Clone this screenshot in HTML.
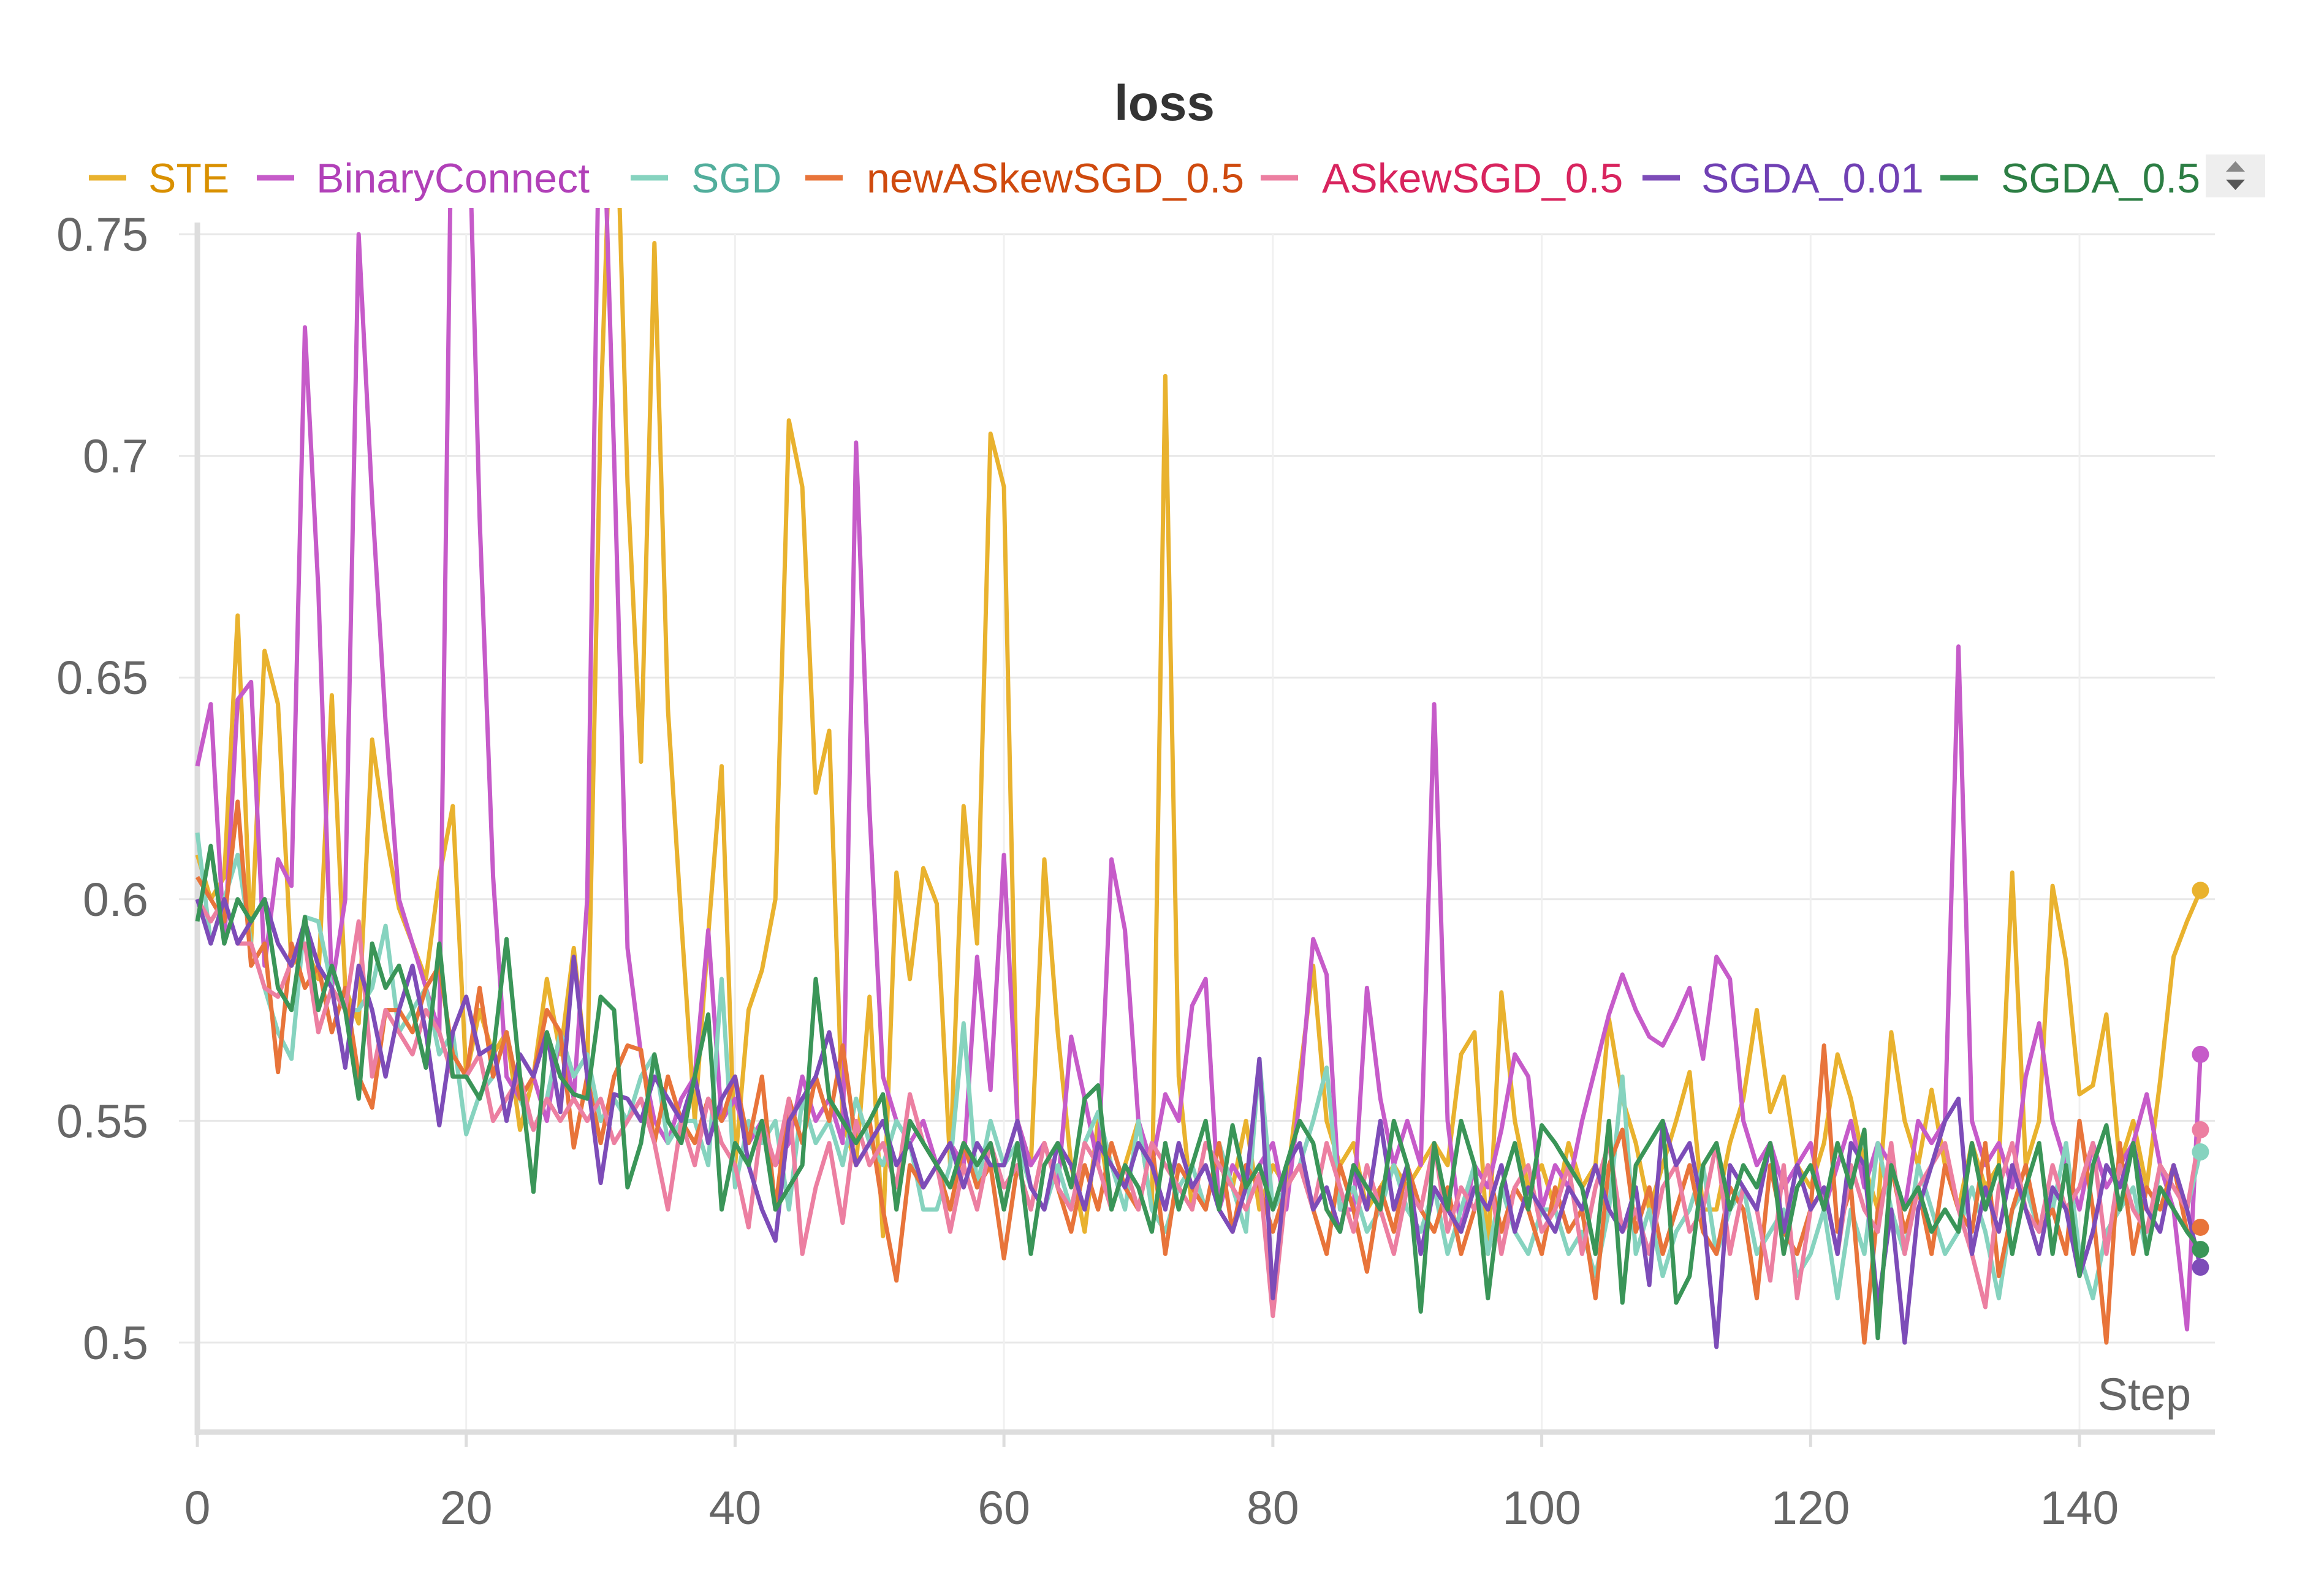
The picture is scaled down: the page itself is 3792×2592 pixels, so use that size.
<!DOCTYPE html>
<html><head><meta charset="utf-8"><style>
html,body{margin:0;padding:0;background:#fff;}
svg{display:block;font-family:"Liberation Sans",sans-serif;}
</style></head><body>
<svg id="chart" width="3792" height="2592" viewBox="0 0 3792 2592" xmlns="http://www.w3.org/2000/svg">
<rect x="0" y="0" width="3792" height="2592" fill="#fff"/>
<text x="1900" y="196" text-anchor="middle" font-size="82" font-weight="bold" fill="#333">loss</text>
<g id="legend"></g>
<g>
<rect x="3599" y="252" width="97" height="70" fill="#eeeeee"/>
<polygon points="3632,280 3663,280 3647.5,263" fill="#888"/>
<polygon points="3632,293 3663,293 3647.5,310" fill="#555"/>
</g>
<g id="grid"></g>
<g id="axes"></g>
<defs><clipPath id="plotclip"><rect x="300" y="339" width="3330" height="2000"/></clipPath></defs>
<g id="series" clip-path="url(#plotclip)"></g>
<g id="dots"></g>
<text x="3575" y="2300" text-anchor="end" font-size="74" fill="#666">Step</text>
</svg>
<script>
const seriesNames = ["STE","BinaryConnect","SGD","newASkewSGD_0.5","ASkewSGD_0.5","SGDA_0.01","SGDA_0.5"];
const yTicks = [0.5,0.55,0.6,0.65,0.7,0.75];
const yTickLabels = ["0.5","0.55","0.6","0.65","0.7","0.75"];
const xTicks = [0,20,40,60,80,100,120,140];
const xTickLabels = ["0","20","40","60","80","100","120","140"];
const steLoss = [
0.610,0.600,0.605,0.664,0.590,0.656,0.644,0.585,0.590,0.582,
0.646,0.580,0.572,0.636,0.615,0.598,0.590,0.582,0.605,0.621,
0.560,0.575,0.565,0.570,0.548,0.560,0.582,0.565,0.589,0.560,
0.710,0.800,0.694,0.631,0.748,0.643,0.595,0.550,0.592,0.630,
0.540,0.575,0.584,0.600,0.708,0.693,0.624,0.638,0.550,0.540,
0.578,0.524,0.606,0.582,0.607,0.599,0.540,0.621,0.590,0.705,
0.693,0.550,0.540,0.609,0.570,0.540,0.525,0.550,0.530,0.540,
0.550,0.530,0.718,0.560,0.530,0.545,0.540,0.535,0.550,0.530,
0.540,0.535,0.560,0.585,0.550,0.540,0.545,0.530,0.535,0.540,
0.535,0.540,0.545,0.540,0.565,0.570,0.520,0.579,0.550,0.535,
0.540,0.530,0.545,0.535,0.540,0.573,0.555,0.545,0.530,0.540,
0.550,0.561,0.530,0.530,0.545,0.555,0.575,0.552,0.560,0.540,
0.535,0.545,0.565,0.555,0.540,0.530,0.570,0.550,0.540,0.557,
0.540,0.530,0.545,0.535,0.540,0.606,0.540,0.550,0.603,0.586,
0.556,0.558,0.574,0.540,0.550,0.535,0.559,0.587,0.595,0.602];
const binaryConnectLoss = [
0.630,0.644,0.590,0.645,0.649,0.585,0.609,0.603,0.729,0.670,
0.580,0.600,0.750,0.690,0.640,0.600,0.590,0.580,0.570,0.800,
0.800,0.686,0.605,0.560,0.555,0.560,0.550,0.570,0.555,0.600,
0.800,0.700,0.589,0.565,0.550,0.545,0.555,0.560,0.593,0.550,
0.555,0.545,0.550,0.540,0.545,0.560,0.550,0.555,0.545,0.703,
0.620,0.560,0.550,0.545,0.550,0.540,0.545,0.540,0.587,0.557,
0.610,0.550,0.540,0.545,0.535,0.569,0.555,0.540,0.609,0.593,
0.550,0.540,0.556,0.550,0.576,0.582,0.530,0.540,0.535,0.540,
0.545,0.530,0.555,0.591,0.583,0.530,0.530,0.580,0.555,0.540,
0.550,0.540,0.644,0.550,0.525,0.540,0.535,0.548,0.565,0.560,
0.530,0.540,0.535,0.550,0.562,0.574,0.583,0.575,0.569,0.567,
0.573,0.580,0.564,0.587,0.582,0.550,0.540,0.545,0.535,0.540,
0.545,0.530,0.540,0.550,0.535,0.545,0.540,0.530,0.550,0.545,
0.550,0.657,0.550,0.540,0.545,0.535,0.560,0.572,0.550,0.540,
0.530,0.545,0.535,0.540,0.545,0.556,0.540,0.530,0.503,0.565];
const sgdLoss = [
0.615,0.590,0.600,0.610,0.590,0.580,0.570,0.564,0.596,0.595,
0.580,0.575,0.575,0.580,0.594,0.570,0.575,0.580,0.565,0.570,
0.547,0.556,0.560,0.570,0.555,0.548,0.555,0.570,0.560,0.565,
0.550,0.555,0.550,0.560,0.565,0.545,0.550,0.550,0.540,0.582,
0.535,0.550,0.545,0.550,0.530,0.555,0.545,0.550,0.540,0.555,
0.545,0.540,0.550,0.545,0.530,0.530,0.540,0.572,0.535,0.550,
0.540,0.545,0.535,0.530,0.540,0.530,0.545,0.552,0.540,0.530,
0.550,0.530,0.525,0.535,0.540,0.530,0.545,0.535,0.525,0.564,
0.530,0.535,0.540,0.550,0.562,0.530,0.535,0.525,0.530,0.540,
0.530,0.525,0.535,0.520,0.530,0.540,0.520,0.535,0.525,0.520,
0.530,0.530,0.520,0.525,0.515,0.530,0.560,0.520,0.530,0.515,
0.525,0.530,0.540,0.520,0.530,0.535,0.520,0.525,0.530,0.515,
0.520,0.530,0.510,0.530,0.520,0.545,0.530,0.520,0.540,0.530,
0.520,0.525,0.535,0.525,0.510,0.530,0.535,0.525,0.530,0.545,
0.520,0.510,0.525,0.530,0.535,0.520,0.540,0.535,0.530,0.543];
const newASkewLoss = [
0.605,0.600,0.595,0.622,0.585,0.590,0.561,0.590,0.580,0.585,
0.570,0.580,0.560,0.553,0.575,0.575,0.570,0.580,0.585,0.565,
0.560,0.580,0.560,0.570,0.555,0.560,0.575,0.570,0.544,0.560,
0.545,0.560,0.567,0.566,0.545,0.560,0.550,0.545,0.555,0.550,
0.560,0.545,0.560,0.530,0.555,0.545,0.560,0.550,0.567,0.545,
0.550,0.530,0.514,0.540,0.535,0.540,0.530,0.545,0.535,0.540,
0.519,0.540,0.530,0.545,0.535,0.525,0.540,0.530,0.545,0.535,
0.530,0.545,0.520,0.540,0.535,0.530,0.545,0.525,0.540,0.535,
0.525,0.535,0.540,0.530,0.520,0.540,0.530,0.516,0.535,0.525,
0.540,0.530,0.525,0.535,0.520,0.530,0.540,0.525,0.535,0.530,
0.520,0.535,0.525,0.530,0.510,0.540,0.548,0.525,0.535,0.520,
0.530,0.540,0.525,0.520,0.535,0.530,0.510,0.540,0.525,0.520,
0.530,0.567,0.525,0.535,0.500,0.530,0.540,0.525,0.535,0.520,
0.540,0.530,0.525,0.545,0.515,0.530,0.540,0.525,0.530,0.520,
0.550,0.530,0.500,0.545,0.520,0.535,0.530,0.540,0.525,0.526];
const askewLoss = [
0.600,0.595,0.600,0.590,0.590,0.580,0.578,0.586,0.590,0.570,
0.580,0.575,0.595,0.560,0.575,0.570,0.565,0.575,0.570,0.560,
0.560,0.565,0.550,0.555,0.560,0.548,0.555,0.550,0.555,0.550,
0.555,0.545,0.550,0.555,0.545,0.530,0.550,0.540,0.555,0.545,
0.540,0.526,0.550,0.540,0.555,0.520,0.535,0.545,0.527,0.550,
0.540,0.545,0.535,0.556,0.545,0.540,0.525,0.540,0.530,0.545,
0.535,0.540,0.530,0.545,0.535,0.530,0.545,0.540,0.530,0.540,
0.530,0.545,0.540,0.535,0.530,0.545,0.540,0.535,0.530,0.538,
0.506,0.535,0.540,0.530,0.545,0.535,0.525,0.540,0.530,0.520,
0.535,0.530,0.545,0.525,0.535,0.530,0.540,0.520,0.535,0.540,
0.525,0.530,0.540,0.520,0.535,0.545,0.525,0.530,0.520,0.535,
0.540,0.525,0.530,0.545,0.520,0.535,0.530,0.514,0.540,0.510,
0.530,0.535,0.520,0.540,0.530,0.525,0.545,0.520,0.535,0.540,
0.545,0.530,0.520,0.508,0.535,0.545,0.530,0.525,0.540,0.530,
0.535,0.545,0.520,0.540,0.530,0.525,0.540,0.535,0.530,0.548];
const sgda001Loss = [
0.600,0.590,0.600,0.590,0.595,0.600,0.590,0.585,0.595,0.585,
0.580,0.562,0.585,0.575,0.560,0.575,0.585,0.570,0.549,0.570,
0.578,0.565,0.567,0.550,0.565,0.560,0.570,0.552,0.587,0.560,
0.536,0.556,0.555,0.550,0.560,0.555,0.550,0.560,0.545,0.555,
0.560,0.540,0.530,0.523,0.550,0.555,0.560,0.570,0.555,0.540,
0.545,0.550,0.540,0.545,0.535,0.540,0.545,0.535,0.545,0.540,
0.540,0.550,0.535,0.530,0.545,0.540,0.530,0.545,0.540,0.535,
0.545,0.540,0.530,0.545,0.535,0.540,0.530,0.525,0.535,0.564,
0.510,0.540,0.545,0.530,0.535,0.525,0.540,0.530,0.550,0.530,
0.540,0.520,0.535,0.530,0.525,0.535,0.530,0.540,0.525,0.535,
0.530,0.525,0.535,0.530,0.540,0.530,0.525,0.535,0.513,0.550,
0.540,0.545,0.530,0.499,0.540,0.535,0.530,0.545,0.525,0.540,
0.530,0.535,0.520,0.545,0.540,0.508,0.530,0.500,0.530,0.540,
0.550,0.555,0.520,0.535,0.525,0.540,0.530,0.520,0.535,0.530,
0.515,0.525,0.540,0.535,0.545,0.530,0.525,0.540,0.530,0.517];
const sgda05Loss = [
0.595,0.612,0.590,0.600,0.595,0.600,0.580,0.575,0.596,0.575,
0.585,0.575,0.555,0.590,0.580,0.585,0.575,0.562,0.590,0.560,
0.560,0.555,0.565,0.591,0.560,0.534,0.570,0.560,0.556,0.555,
0.578,0.575,0.535,0.545,0.565,0.550,0.545,0.560,0.574,0.530,
0.545,0.540,0.550,0.530,0.535,0.540,0.582,0.555,0.550,0.545,
0.550,0.556,0.530,0.550,0.545,0.540,0.535,0.545,0.540,0.545,
0.530,0.545,0.520,0.540,0.545,0.535,0.555,0.558,0.530,0.540,
0.535,0.525,0.545,0.530,0.540,0.550,0.530,0.549,0.535,0.540,
0.530,0.540,0.550,0.545,0.530,0.525,0.540,0.535,0.530,0.550,
0.540,0.507,0.545,0.530,0.550,0.540,0.510,0.535,0.545,0.530,
0.549,0.545,0.540,0.535,0.520,0.550,0.509,0.540,0.545,0.550,
0.509,0.515,0.540,0.545,0.530,0.540,0.535,0.545,0.520,0.535,
0.540,0.530,0.545,0.535,0.548,0.501,0.540,0.530,0.535,0.525,
0.530,0.525,0.545,0.530,0.540,0.520,0.535,0.545,0.520,0.540,
0.515,0.540,0.549,0.530,0.545,0.520,0.535,0.530,0.525,0.521];

const seriesData = [steLoss,binaryConnectLoss,sgdLoss,newASkewLoss,askewLoss,sgda001Loss,sgda05Loss];
const lineColors = ["#E9B22E","#C65BC9","#86D3BF","#E8743A","#EC7FA1","#7D4CB8","#3A9558"];
const textColors = ["#D99000","#B140B8","#52AE9C","#CF4A0E","#D8245E","#7040B4","#2C7E44"];
const legendSlugs = ["ste","binaryconnect","sgd","newaskewsgd","askewsgd","sgda-001","sgda-05"];
const legendX = [145,419,1029,1314,2057,2680,3166];
const legendTextX = [242,516,1128,1414,2157,2776,3265];

const NS = "http://www.w3.org/2000/svg";
const X0 = 322, X1 = 3393, Y0 = 2190, Y1 = 382;
function xs(step){ return X0 + step/140*(X1-X0); }
function ys(v){ return Y0 - (v-0.5)/0.25*(Y0-Y1); }
function mk(tag, attrs, parent){ const e=document.createElementNS(NS,tag); for(const k in attrs) e.setAttribute(k,attrs[k]); parent.appendChild(e); return e; }

const grid = document.getElementById('grid');
const axes = document.getElementById('axes');
yTicks.forEach((t,i)=>{
  const y = ys(t);
  const gl = mk('line',{x1:292,x2:3614,y1:y,y2:y,stroke:'#e8e8e8','stroke-width':3},grid);
  
  
  const lb = mk('text',{x:242,y:y+27,'text-anchor':'end','font-size':77,fill:'#666'},axes);
  lb.textContent = yTickLabels[i];
  
  
});
xTicks.forEach((t,i)=>{
  const x = xs(t);
  const gl = mk('line',{x1:x,x2:x,y1:382,y2:2336,stroke:'#f0f0f0','stroke-width':3},grid);
  
  
  const tk = mk('line',{x1:x,x2:x,y1:2336,y2:2360,stroke:'#ddd','stroke-width':5},axes);
  
  
  const lb = mk('text',{x:x,y:2486,'text-anchor':'middle','font-size':77,fill:'#666'},axes);
  lb.textContent = xTickLabels[i];
  
  
});
const ya = mk('line',{x1:322,x2:322,y1:363,y2:2341,stroke:'#dddddd','stroke-width':9},axes);


const xa = mk('line',{x1:318,x2:3614,y1:2336,y2:2336,stroke:'#dddddd','stroke-width':9},axes);



const legend = document.getElementById('legend');
seriesNames.forEach((n,i)=>{
  const g = mk('g',{},legend);
  
  
  mk('line',{x1:legendX[i],x2:legendX[i]+61,y1:290,y2:290,stroke:lineColors[i],'stroke-width':9},g);
  const t = mk('text',{x:legendTextX[i],y:314,'font-size':68,fill:textColors[i]},g);
  t.textContent = n;
});

const series = document.getElementById('series');
const dots = document.getElementById('dots');
seriesData.forEach((arr,i)=>{
  const d = arr.map((v,s)=>(s?'L':'M')+xs(s).toFixed(1)+','+ys(v).toFixed(1)).join(' ');
  const p = mk('path',{d:d,fill:'none',stroke:lineColors[i],'stroke-width':7,'stroke-linejoin':'round'},series);
  
  
  const last = arr.length-1;
  const c = mk('circle',{cx:xs(last),cy:ys(arr[last]),r:14,fill:lineColors[i]},dots);
  
  
});
</script>
</body></html>
